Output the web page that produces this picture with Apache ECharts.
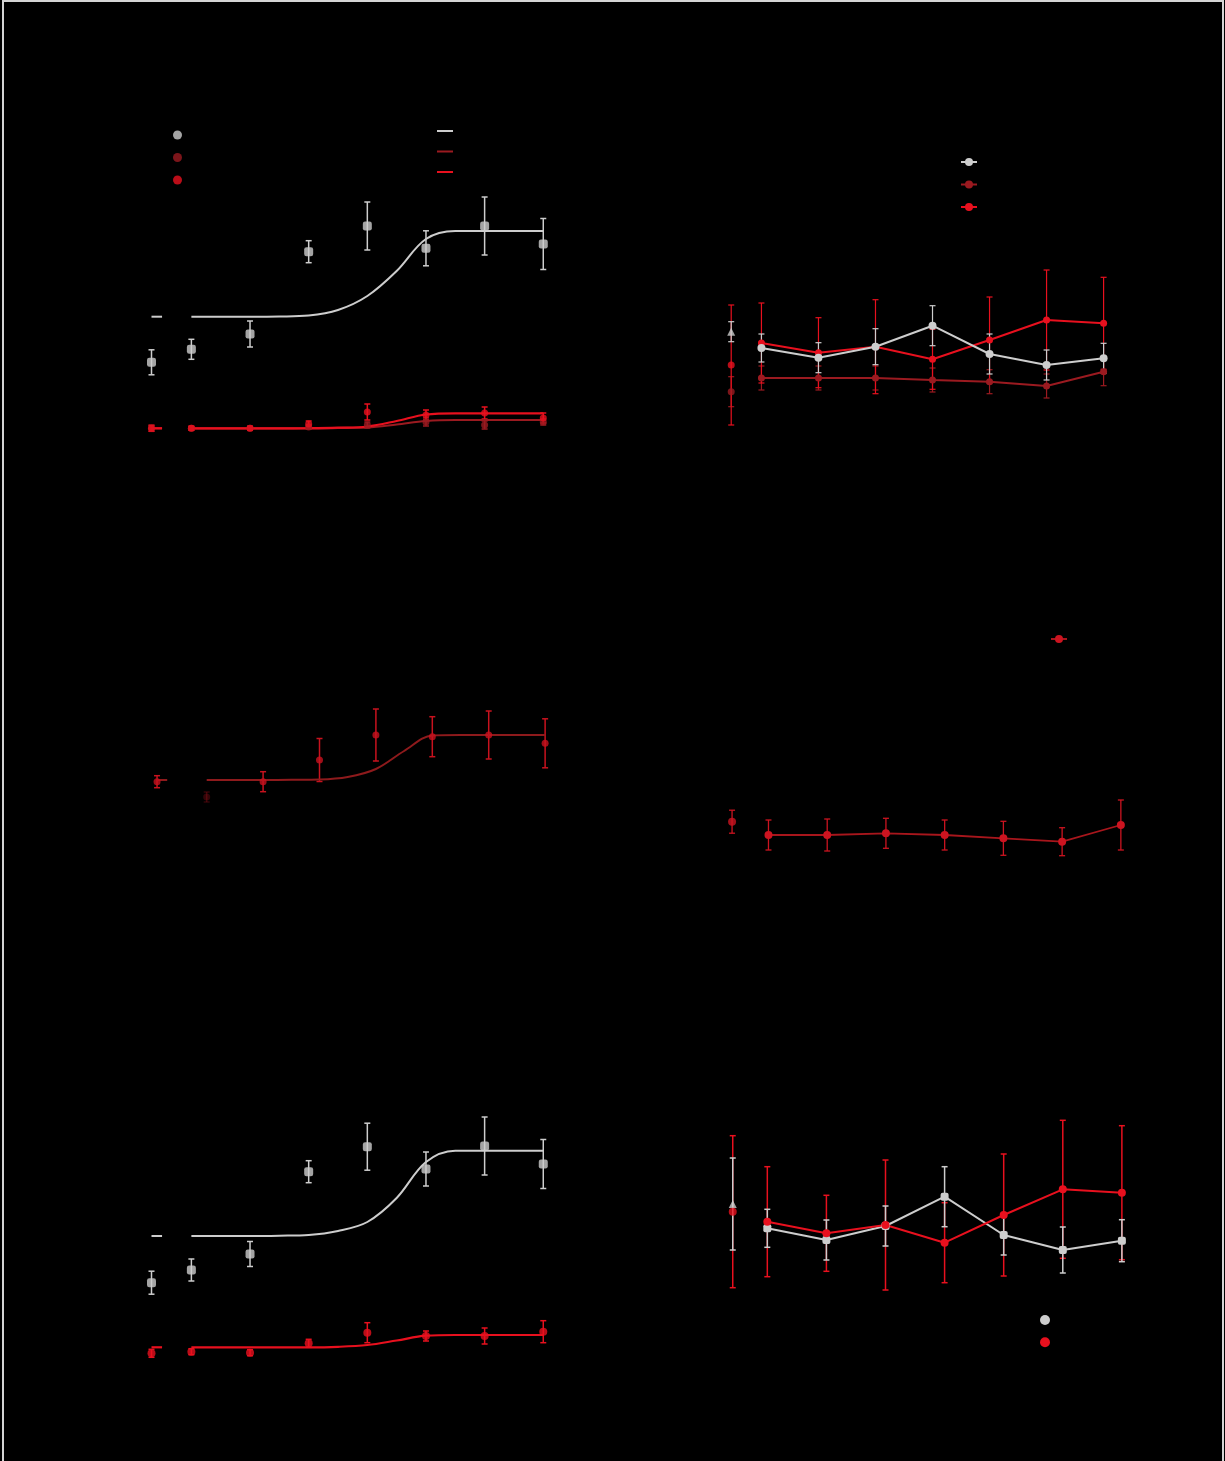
<!DOCTYPE html>
<html><head><meta charset="utf-8">
<script src="https://cdn.jsdelivr.net/npm/echarts@6/dist/echarts.min.js"></script>
<style>
html,body{margin:0;padding:0;background:#000;overflow:hidden;width:1225px;height:1461px;}
#frame{position:absolute;left:2px;top:0px;width:1222px;height:1470px;border-top:2px solid #d4d4d4;border-left:2px solid #d4d4d4;border-right:2px solid #d4d4d4;box-sizing:border-box;}
#chart{position:absolute;left:0;top:0;width:1225px;height:1461px;}
</style></head><body><div id="frame"></div><div id="chart"></div>
<script>
// ---------- data (first value of each 8-value series = control, then log concentrations) ----------
const concLog = [-3, -2, -1, 0, 1, 2, 3];
const fitLog = [-3, -2.5, -2, -1.5, -1, -0.5, 0, 0.5, 1, 1.5, 2, 2.5, 3];
const ctrlLog = [-3.68, -3.53, -3.88, -3.62, -3.68, -3.585]; // panels A..F
const xTickLabels = ['-3', '-2', '-1', '0', '1', '2', '3'];

// Panel A
const aGrey = [77.7, 90.7, 106, 188.3, 214, 191.7, 214, 196];
const aGreyErr = [12.5, 10, 13, 11, 24, 17.5, 29, 25.5];
const aDark = [11.7, 11.7, 11.7, 13, 15, 18, 15, 18];
const aDarkErr = [3, 2, 2, 2, 3, 4, 4, 3];
const aBright = [11.7, 11.7, 11.7, 16, 28, 25, 27, 22];
const aBrightErr = [3, 2, 2, 3, 8, 5, 6, 5];
const aGreyFit = [123.3, 123.3, 123.3, 123.5, 124.5, 130, 144, 169, 201, 209, 209, 209, 209];
const aDarkFit = [11.7, 11.7, 11.7, 11.7, 11.7, 12, 12.5, 15.5, 19, 20, 20, 20, 20];
const aBrightFit = [11.7, 11.7, 11.7, 11.7, 11.8, 12.3, 13.5, 19, 25.5, 26.7, 26.7, 26.7, 26.7];

// Panel B
const bGrey = [108.3, 92, 82.3, 93.3, 114.3, 86, 75, 81.7];
const bGreyErr = [10, 14, 15, 18, 20, 20, 15, 15];
const bBright = [75, 97, 87.3, 93.3, 80.7, 100, 120, 116.7];
const bBrightErr = [60, 40, 35, 47, 30, 43, 50, 46];
const bDark = [48.3, 62, 62, 62, 60, 58.3, 54, 68.3];
const bDarkErr = [15, 12, 12, 12, 12, 12, 12, 14];

// Panel C
const cVals = [58.3, 43, 58.3, 80, 105, 103.3, 105, 96.7];
const cErr = [6, 5, 10, 21.5, 26, 20, 24, 24.5];
const cFit = [60, 60, 60, 60.2, 60.5, 63, 71, 89, 104.5, 105, 105, 105, 105];

// Panel D
const dVals = [78.3, 65, 65, 66.7, 65, 61.7, 58.3, 75];
const dErr = [11.5, 15, 16, 15, 15, 17, 14, 25];

// Panel E
const eGrey = [117.3, 130, 146, 228.3, 253.3, 231, 254, 236];
const eGreyErr = [11.5, 11, 12.5, 11, 23.5, 17, 29, 24.5];
const eRed = [46.7, 48.3, 47.3, 56.7, 67.3, 64, 64, 68.3];
const eRedErr = [4, 3, 3, 4, 10, 5, 8, 11];
const eGreyFit = [164, 164, 164, 164.3, 165, 169, 178, 202, 238, 249.3, 249.3, 249.3, 249.3];
const eRedFit = [52.7, 52.7, 52.7, 52.7, 52.7, 53.2, 55, 59.5, 64.3, 65, 65, 65, 65];

// Panel F
const fGrey = [196, 171.7, 160, 174, 203.3, 165, 150, 159.3];
const fGreyErr = [46, 19, 20, 20, 30, 20, 23, 21];
const fRed = [188.3, 178.3, 166.7, 175, 157.3, 185, 210.7, 207.3];
const fRedErr = [76, 55, 38, 65, 40, 61, 69, 67];

// series names (legend text; black on black like the reference)
const namesA = ['Control', 'Treatment 1', 'Treatment 2'];
const fitNamesA = ['Control fit', 'Treatment 1 fit', 'Treatment 2 fit'];
const namesB = ['Control (B)', 'Treatment 1 (B)', 'Treatment 2 (B)'];
const namesC = ['Treatment 1 (C)', 'Treatment 1 fit (C)'];
const namesD = ['Treatment 2 (D)'];
const namesE = ['Control (E)', 'Treatment 2 (E)', 'Control fit (E)', 'Treatment 2 fit (E)'];
const namesF = ['Control (F)', 'Treatment 2 (F)'];

// ---------- styles ----------
const GREY = '#cdcdcd';
const DARK = '#9b1a20';
const BRIGHT = '#e8101e';
const CRED = '#c8121e';
const CFIT = '#8e1a1c';
const DRED = '#cc1420';
const legendColorsA = [GREY, DARK, BRIGHT];

const grids = [], xAxes = [], yAxes = [], series = [];
const axisCommon = {
  axisLine: { show: true, lineStyle: { color: '#000' } },
  axisTick: { show: true, lineStyle: { color: '#000' } },
  axisLabel: { color: '#000', fontSize: 11 },
  splitLine: { show: false }
};
function addPanel(left, top, width, height, ymax) {
  grids.push({ left, top, width, height, containLabel: false, outerBoundsMode: 'none' });
  const i = grids.length - 1;
  xAxes.push(Object.assign({ type: 'value', gridIndex: i, min: -4.2, max: 3.2,
    axisLabel: { color: '#000', fontSize: 11, formatter: v => (Number.isInteger(v) && v >= -3) ? xTickLabels[v + 3] : '' } },
    { axisLine: axisCommon.axisLine, axisTick: axisCommon.axisTick, splitLine: axisCommon.splitLine }));
  yAxes.push(Object.assign({ type: 'value', gridIndex: i, min: 0, max: ymax }, axisCommon));
  return i;
}
function errRenderer(color, width, cap, dimSet) {
  return function (params, api) {
    const x = api.value(0), lo = api.value(1), hi = api.value(2);
    const a = api.coord([x, lo]), b = api.coord([x, hi]);
    const op = dimSet && dimSet.includes(params.dataIndex) ? 0.25 : 1;
    const st = { stroke: color, lineWidth: width, opacity: op };
    return { type: 'group', children: [
      { type: 'line', shape: { x1: a[0], y1: a[1], x2: b[0], y2: b[1] }, style: st },
      { type: 'line', shape: { x1: a[0] - cap, y1: a[1], x2: a[0] + cap, y2: a[1] }, style: st },
      { type: 'line', shape: { x1: b[0] - cap, y1: b[1], x2: b[0] + cap, y2: b[1] }, style: st }
    ] };
  };
}
function xsFor(p) { return [ctrlLog[p]].concat(concLog); }
function errSeries(i, xs, ys, errs, color, width, dimSet) {
  series.push({ type: 'custom', xAxisIndex: i, yAxisIndex: i, silent: true, z: 2,
    renderItem: errRenderer(color, width, 3, dimSet), encode: { x: 0, y: [1, 2] },
    data: xs.map((x, k) => [x, ys[k] - errs[k], ys[k] + errs[k]]) });
}
function scatterSeries(i, name, xs, ys, color, symbol, size, dimSet) {
  series.push({ type: 'scatter', name, xAxisIndex: i, yAxisIndex: i, symbol, symbolSize: size, z: 4,
    itemStyle: { color },
    data: xs.map((x, k) => ({ value: [x, ys[k]], itemStyle: dimSet && dimSet.includes(k) ? { opacity: 0.25 } : undefined })) });
}
function fitSeries(i, name, fit, color, width, p) {
  series.push({ type: 'line', name, xAxisIndex: i, yAxisIndex: i, smooth: 0.35,
    showSymbol: false, symbol: 'none', lineStyle: { color, width }, itemStyle: { color }, z: 3,
    data: fitLog.map((x, k) => [x, fit[k]]) });
  // short fit segment across the control break
  series.push({ type: 'line', xAxisIndex: i, yAxisIndex: i, showSymbol: false, symbol: 'none', silent: true,
    lineStyle: { color, width }, z: 3,
    data: [[ctrlLog[p], fit[0]], [ctrlLog[p] + 0.18, fit[0]]] });
}
function connectedSeries(i, name, xs, ys, color, lineColor, symbol, size, width, ctrlSymbol) {
  series.push({ type: 'line', name, xAxisIndex: i, yAxisIndex: i, symbol, symbolSize: size, showSymbol: true,
    lineStyle: { color: lineColor, width }, itemStyle: { color }, z: 4,
    data: xs.slice(1).map((x, k) => [x, ys[k + 1]]) });
  series.push({ type: 'scatter', xAxisIndex: i, yAxisIndex: i, symbol: ctrlSymbol || symbol, symbolSize: size,
    itemStyle: { color }, z: 4, data: [[xs[0], ys[0]]] });
}

// ---------- panels ----------
// A
let i = addPanel(121, 180, 434, 260, 260), xs = xsFor(0);
errSeries(i, xs, aDark, aDarkErr, DARK, 1.5);
errSeries(i, xs, aBright, aBrightErr, BRIGHT, 1.5);
errSeries(i, xs, aGrey, aGreyErr, GREY, 1.5);
fitSeries(i, fitNamesA[1], aDarkFit, DARK, 2.2, 0);
fitSeries(i, fitNamesA[2], aBrightFit, BRIGHT, 2.2, 0);
fitSeries(i, fitNamesA[0], aGreyFit, GREY, 2, 0);
scatterSeries(i, namesA[1], xs, aDark, DARK, 'circle', 7);
scatterSeries(i, namesA[2], xs, aBright, BRIGHT, 'circle', 7);
scatterSeries(i, namesA[0], xs, aGrey, GREY, 'roundRect', 9);

// B
i = addPanel(693, 180, 422, 260, 260); xs = xsFor(1);
errSeries(i, xs, bDark, bDarkErr, DARK, 1.2);
errSeries(i, xs, bBright, bBrightErr, BRIGHT, 1.2);
errSeries(i, xs, bGrey, bGreyErr, GREY, 1.2);
connectedSeries(i, namesB[1], xs, bDark, DARK, DARK, 'circle', 7, 2);
connectedSeries(i, namesB[2], xs, bBright, BRIGHT, BRIGHT, 'circle', 7, 2);
connectedSeries(i, namesB[0], xs, bGrey, GREY, GREY, 'circle', 8, 2, 'triangle');

// C
i = addPanel(139, 600, 417.4, 240, 240); xs = xsFor(2);
errSeries(i, xs, cVals, cErr, CRED, 1.5, [1]);
fitSeries(i, namesC[1], cFit, CFIT, 2, 2);
scatterSeries(i, namesC[0], xs, cVals, CRED, 'circle', 7, [1]);

// D
i = addPanel(698, 600, 434.6, 300, 300); xs = xsFor(3);
errSeries(i, xs, dVals, dErr, DRED, 1.3);
connectedSeries(i, namesD[0], xs, dVals, DRED, '#a8161c', 'circle', 8, 1.8);

// E
i = addPanel(121, 1100, 434, 300, 300); xs = xsFor(4);
errSeries(i, xs, eRed, eRedErr, BRIGHT, 1.5);
errSeries(i, xs, eGrey, eGreyErr, GREY, 1.5);
fitSeries(i, namesE[3], eRedFit, BRIGHT, 2.2, 4);
fitSeries(i, namesE[2], eGreyFit, GREY, 2, 4);
scatterSeries(i, namesE[1], xs, eRed, BRIGHT, 'circle', 8);
scatterSeries(i, namesE[0], xs, eGrey, GREY, 'roundRect', 9);

// F
i = addPanel(696.4, 1100, 437.3, 300, 300); xs = xsFor(5);
errSeries(i, xs, fRed, fRedErr, BRIGHT, 1.5);
errSeries(i, xs, fGrey, fGreyErr, GREY, 1.5);
connectedSeries(i, namesF[0], xs, fGrey, GREY, GREY, 'roundRect', 8, 2, 'triangle');
connectedSeries(i, namesF[1], xs, fRed, BRIGHT, BRIGHT, 'circle', 8, 2);

const legendText = { color: '#000', fontSize: 10, lineHeight: 10 };
const legends = [
  { data: namesA.map((n, k) => ({ name: n, icon: 'circle', itemStyle: { color: legendColorsA[k] } })),
    left: 173, top: 130, orient: 'vertical', itemWidth: 16, itemHeight: 9, itemGap: 12.5, padding: 0, textStyle: legendText },
  { data: fitNamesA.map((n, k) => ({ name: n, itemStyle: { color: legendColorsA[k] }, lineStyle: { color: legendColorsA[k] } })),
    icon: 'rect', left: 437, top: 130, orient: 'vertical', itemWidth: 16, itemHeight: 2, itemGap: 18.5, padding: 0,
    textStyle: { color: '#000', fontSize: 2, lineHeight: 2 } },
  { data: namesB, left: 960, top: 157, orient: 'vertical', itemWidth: 16, itemHeight: 10, itemGap: 12.5, padding: 0, textStyle: legendText },
  { data: namesD, left: 1050, top: 634, orient: 'vertical', itemWidth: 16, itemHeight: 10, itemGap: 12, padding: 0, textStyle: legendText },
  { data: namesF.map(n => ({ name: n, icon: 'circle' })), left: 1040, top: 1315, orient: 'vertical', itemWidth: 10, itemHeight: 10, itemGap: 12.3, padding: 0, textStyle: legendText }
];

const chart = echarts.init(document.getElementById('chart'));
chart.setOption({
  backgroundColor: 'transparent',
  animation: false,
  grid: grids, xAxis: xAxes, yAxis: yAxes, legend: legends, series
});
</script></body></html>
